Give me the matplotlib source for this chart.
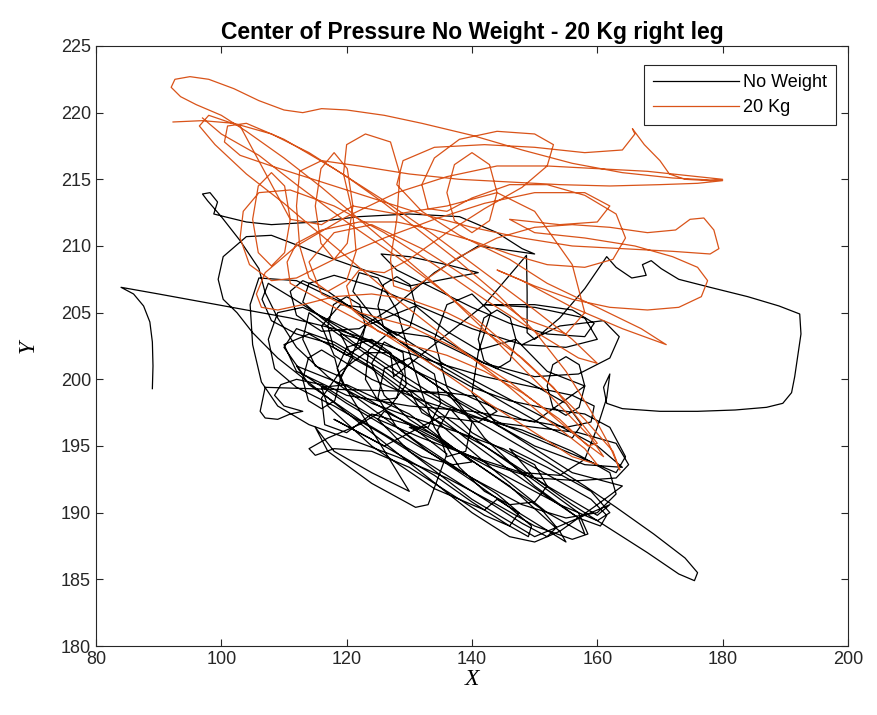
import matplotlib
matplotlib.use("Agg")
import matplotlib.pyplot as plt

# trajectories (x, y)
no_weight = [
    (89.0, 199.3), (89.1, 201.0), (89.0, 202.8), (88.6, 204.3), (87.6, 205.5), (86.0, 206.4), (84.0, 206.9),
    (90, 206.4), (97, 205.8), (104, 205.2), (111, 204.6), (118, 203.8), (126, 202.6), (134, 201.3), (142, 200.2),
    (150, 199.4), (156, 198.8), (159.5, 198.0), (159, 196.8), (155, 196.4), (148, 197.0),
    (140, 198.6), (132, 200.4), (124, 202.4), (117, 204.4), (111, 206.2), (107.5, 207.2), (106.5, 206.0),
    (108, 204.4), (112, 203.4), (118, 202.6),
    (125, 200.6), (132, 198.2), (139, 195.6), (146, 193.2), (152, 191.2), (157, 189.6), (160.5, 189.0),
    (161.5, 189.8), (159, 191.0), (153, 192.6), (146, 194.4),
    (140, 196.0), (136.5, 197.8), (134.5, 196.2), (136, 194.2), (139, 194.6), (140, 196.8),
    (136, 199.0), (128, 201.6), (120, 203.8), (113, 205.4), (109, 205.0), (107.5, 203.0), (108.5, 200.8),
    (112, 199.4), (118, 198.0),
    (126, 195.8), (134, 193.4), (142, 191.0), (148, 189.2), (152, 188.2), (153.5, 188.9), (151, 190.3), (144, 192.6),
    (136, 195.2), (130, 197.0), (126, 198.8), (124, 201.2), (126, 202.8), (129, 202.0), (129.5, 199.6),
    (127, 198.0), (122, 196.6), (117, 195.6), (114, 194.8), (115, 194.3), (118, 194.8),
    (124, 194.6), (130, 193.4), (136, 191.6), (142, 189.8), (146, 189.0), (147.5, 190.0), (144, 191.4), (138, 193.2),
    (131, 195.4), (124, 197.8), (117, 200.2), (112, 202.4), (109, 204.6), (107, 206.5), (106, 208.3),
    (103, 210.4), (100, 212.2), (97.8, 213.4), (97.0, 213.9), (98.2, 214.0), (99.4, 213.3), (98.8, 212.4),
    (100.5, 212.2), (104, 211.8), (108, 211.6),
    (115, 211.8), (122, 212.2), (130, 212.4), (138, 212.2), (144, 211.0), (148, 209.8), (150, 209.4),
    (147, 209.6), (141, 210.0),
    (134, 208.0), (128, 205.6), (122, 203.8), (116, 203.6), (112, 204.8), (111, 206.6), (113, 207.4),
    (117, 206.6), (123, 204.6), (130, 202.4), (138, 200.2), (146, 198.0), (152, 196.4), (156, 195.6),
    (157.5, 196.6), (155, 198.2), (149, 199.8),
    (140, 201.6), (133, 203.2), (127, 203.6), (123.5, 202.2), (123, 200.0), (125, 198.4), (128, 198.6),
    (129, 200.4), (127, 202.0), (123, 202.0), (119, 200.6), (116, 198.6), (116.5, 196.6), (120, 196.0), (124, 197.4),
    (130, 196.6), (138, 194.6), (146, 192.6), (154, 190.6), (160, 189.4), (162, 190.0), (159, 191.6),
    (152, 193.4), (146, 194.8),
    (150, 192.6), (156, 190.6), (162, 188.8), (168, 187.0), (173, 185.4), (175.5, 184.9), (176, 185.5),
    (174, 186.6), (169, 188.4), (163, 190.4), (158, 192.0), (152, 193.8),
    (144, 196.0), (136, 198.2), (128, 200.6), (121, 202.8), (116, 204.6), (113, 205.8), (114, 207.2),
    (118, 207.8), (124, 207.0), (132, 205.4), (140, 203.8), (148, 202.6), (155, 202.4), (160, 203.0),
    (158, 204.6), (150, 205.4), (142, 205.6),
    (148.7, 209.3), (148.8, 206.5), (148.8, 203.5), (150, 203.0), (154, 204.6), (158, 206.8), (161.5, 209.2),
    (163, 208.4), (165.5, 207.6), (167.8, 207.8), (167.2, 208.6), (168.6, 208.9), (170.2, 208.3),
    (173, 207.5), (178, 206.9), (184, 206.2), (189, 205.5), (192.3, 204.9), (192.5, 203.4), (192.0, 201.8),
    (191.5, 200.2), (191.0, 199.0), (189.6, 198.2), (187, 197.9), (182, 197.7), (176, 197.6), (170, 197.6),
    (164, 197.8), (161.5, 198.2), (161.0, 199.4), (162.0, 200.4), (161.5, 198.6),
    (160, 196.4), (158, 194.0), (154, 192.8), (148, 193.0), (140, 194.2), (132, 195.6), (125, 197.0),
    (120, 198.4), (116, 199.6), (112, 200.0), (109.5, 199.6), (108.5, 198.8), (110, 198.0), (113, 197.6),
    (111, 197.4), (109, 197.0), (107, 197.1), (106.2, 197.6), (107, 199.4), (114, 199.3), (122, 199.2),
    (130, 199.1), (136, 199.0), (141, 198.7), (144, 197.6), (141, 196.8), (135, 197.2),
    (126, 195.0), (118, 197.0), (126, 195.0), (134, 192.8), (140, 190.8), (146, 189.0), (149, 188.2),
    (149.5, 189.0), (146, 190.4), (140, 192.4), (133, 194.6), (128, 196.4), (125, 198.6), (126, 200.8),
    (130, 201.6), (134, 200.4), (135, 198.2), (133, 196.4), (130, 196.4),
    (136, 195.0), (143, 193.6), (150, 192.6), (157, 192.4), (163, 192.6), (165, 193.6), (163, 195.2),
    (157, 196.0), (150, 196.4), (143, 196.8),
    (136, 198.0), (130, 199.6), (124, 201.6), (118, 203.6), (114, 205.0), (113, 203.0), (115, 201.0),
    (119, 200.2), (121, 201.6), (119, 203.4),
    (124, 202.8), (131, 200.6), (138, 198.4), (145, 196.6), (152, 195.2), (158, 194.0), (163, 193.0),
    (164.5, 194.2), (162, 196.4), (158, 197.4),
    (152, 197.8), (146, 198.4), (140, 199.4), (134, 201.0), (128, 203.0), (124, 204.8), (121, 206.6),
    (122, 208.0), (125, 207.6), (128, 205.2), (130, 202.0), (132, 199.0), (134, 196.4),
    (138, 193.4), (142, 191.6), (146, 190.6), (150, 190.8), (152, 192.0), (150, 193.6), (145, 194.8),
    (138, 196.0), (130, 197.2), (124, 198.2), (120, 199.2), (118.5, 200.8), (120, 202.4), (124, 203.0),
    (127, 202.0), (127.5, 200.2),
    (142, 205.6), (150, 205.6), (156, 205.2), (159.5, 204.2), (158, 203.2), (152, 203.4), (146, 204.2),
    (140, 205.4), (134, 206.8), (128, 208.2), (125.5, 209.4), (130, 209.2), (136, 208.6), (141, 208.0),
    (130, 207.0), (118, 209.0), (108, 210.8), (104, 210.7), (100.3, 209.2), (99.5, 207.5), (100.3, 206.0),
    (102.5, 205.0), (105, 203.5), (109, 201.6), (116, 199.0), (124, 196.0), (132, 193.0), (140, 190.0),
    (146, 188.2), (150, 187.8), (154, 188.6), (160, 190.6), (164, 192.0),
    # thin ellipses in the lower cluster
    (156, 193.0), (146, 196.0), (136, 198.8), (130, 199.2), (132, 197.5), (142, 195.0), (152, 192.0),
    (160, 189.8), (162, 190.6),
    (150, 188.2), (140, 191.0), (130, 194.6), (125, 197.0), (126, 197.6), (134, 195.8), (146, 192.0),
    (154, 188.6), (155, 187.8),
    (144, 191.0), (142, 190.2), (134, 191.8), (124, 195.0), (117, 198.0), (116, 199.4), (120, 199.6),
    (130, 197.4), (140, 193.8),
    (137, 193.6), (132, 194.2), (122, 197.0), (114, 199.6), (112, 201.0), (120, 199.5), (130, 196.6),
    (136, 194.4),
    (133, 190.6), (131, 190.4), (124, 192.2), (117, 194.6), (115, 196.4), (118, 194.6), (124, 193.0),
    (130, 191.6),
    # small loops in the upper cluster
    (119, 200.0), (118.1, 201.6), (116, 202.2), (113.9, 201.6), (113, 200.0), (113.9, 198.4), (116, 197.8),
    (118.1, 198.4), (119, 200.0),
    (123, 204.0), (122.1, 205.6), (120, 206.2), (117.9, 205.6), (117, 204.0), (117.9, 202.4), (120, 201.8),
    (122.1, 202.4), (123, 204.0),
    (131, 205.5), (130.1, 207.1), (128, 207.7), (125.9, 207.1), (125, 205.5), (125.9, 203.9), (128, 203.3),
    (130.1, 203.9), (131, 205.5),
    (136, 203.6), (141, 202.2),
    (147, 203.0), (146.1, 204.6), (144, 205.2), (141.9, 204.6), (141, 203.0), (141.9, 201.4), (144, 200.8),
    (146.1, 201.4), (147, 203.0),
    (152, 200.6),
    (158, 199.5), (157.1, 201.1), (155, 201.7), (152.9, 201.1), (152, 199.5), (152.9, 197.9), (155, 197.3),
    (157.1, 197.9), (158, 199.5),
    (150, 196.8), (140, 197.6), (130, 198.0), (120, 198.8), (112, 200.6), (110, 202.6), (114, 203.4),
    (124, 200.8), (134, 197.0), (144, 193.0), (152, 190.0), (158, 188.4), (157, 189.6), (150, 192.0),
    (142, 195.6), (136, 199.4), (134, 203.0), (136, 205.6), (140, 206.4), (143, 205.0), (141, 202.0),
    (140, 199.0), (144, 196.6), (150, 195.0), (158, 193.6), (164, 193.4),
    # more passes
    (160, 195.0), (152, 197.0), (144, 199.0), (136, 201.0), (128, 203.4), (120, 205.6), (112, 207.4),
    (106, 207.6), (104.6, 205.6), (105, 202.6), (106.4, 199.8), (109, 198.0), (114, 196.6), (120, 195.6),
    (128, 194.2), (136, 192.6), (144, 190.6), (150, 189.0), (156, 188.0), (158.5, 188.4), (157, 190.0),
    (150, 192.4), (142, 195.0), (134, 197.8), (126, 200.6), (118, 202.8), (112, 203.8), (110, 202.4),
    (113, 200.4), (120, 198.2), (130, 195.4), (140, 192.6), (148, 190.6), (155, 189.6), (160, 190.0),
    (163, 191.4), (162, 193.0), (156, 194.6), (148, 196.2), (140, 197.2), (132, 198.4), (124, 200.0),
    (118, 201.8), (116, 204.0), (119, 205.6), (126, 205.2), (134, 203.4), (142, 201.2), (150, 200.2),
    (157, 200.4), (162, 201.6), (163.5, 203.2), (161, 204.4), (154, 204.0), (148, 202.6),
]

kg20 = [
    (92.3, 219.3), (97, 219.4), (102, 219.2), (108, 218.4), (114, 217.0), (120, 215.2), (126, 213.2),
    (132, 211.0), (138, 208.8), (144, 206.4), (150, 203.6), (155, 200.6), (159, 197.6), (162, 195.0),
    (163.6, 193.2), (162.5, 194.6), (158, 197.0), (152, 199.8), (146, 202.4), (140, 204.8), (134, 207.2),
    (128, 209.6), (122, 212.0), (116, 214.4), (110, 216.6), (104, 218.6), (100, 219.8),
    (96, 220.6), (93.5, 221.2), (92, 221.9), (92.6, 222.5), (95, 222.7), (98, 222.5), (102, 221.8),
    (106, 220.9), (110, 220.2), (113, 220.0), (116, 220.3), (120, 220.2), (126, 219.8), (132, 219.2),
    (140, 218.3), (148, 217.2), (156, 216.2), (164, 215.5), (172, 215.1), (180, 214.9), (176, 214.7),
    (170, 214.6), (162, 214.5), (154, 214.6), (146, 214.8),
    (138, 215.0), (130, 215.4), (122, 216.0), (116, 216.4), (112.5, 215.6), (112, 213.0), (112.5, 210.0),
    (114, 207.6), (117, 206.6), (120, 207.4), (121.5, 209.6), (121, 212.4), (119.5, 215.4), (120, 217.6),
    (123, 218.4), (127, 217.8), (128.5, 215.4), (128, 212.0), (127, 209.0), (127.5, 207.0), (130, 206.6),
    (133, 207.6),
    (138, 209.2), (144, 210.6), (150, 211.4), (156, 211.6), (162, 211.4), (168, 211.0), (172.5, 211.2),
    (174.8, 212.0), (177.0, 212.1), (178.6, 211.2), (179.4, 209.8), (178, 209.4), (172, 209.6), (164, 209.8),
    (156, 210.0), (148, 210.6), (140, 211.4), (132, 212.4), (124, 213.6), (116, 214.8), (108, 216.0),
    (103, 216.8), (100.5, 217.8), (101, 219.0), (104, 219.2),
    (110, 218.0), (118, 215.8), (126, 213.4), (134, 210.8), (142, 208.0), (150, 205.2), (156, 203.0),
    (160, 201.2), (157, 201.6), (150, 203.6), (142, 206.0), (134, 208.6), (126, 211.0), (118, 213.0),
    (111, 214.2), (106, 214.0), (103.5, 212.6), (103, 210.6), (104.5, 208.6), (108, 207.4), (112, 207.6),
    (118, 209.0), (126, 210.6), (134, 212.0), (142, 213.2), (150, 214.0), (158, 214.0), (162, 213.0),
    (160, 211.8), (154, 211.6), (146, 212.0),
    (150, 211.0), (158, 210.6), (166, 210.0), (172, 209.2), (176, 208.4), (177.6, 207.4), (176.6, 206.2),
    (173, 205.4), (168, 205.2), (162, 205.4), (156, 206.0), (150, 207.0), (144, 208.2),
    (148, 207.4), (156, 205.4), (164, 203.8), (171, 202.6), (167, 203.8), (160, 205.4), (152, 207.2),
    (146, 209.0), (138, 210.8), (132, 212.6), (128, 214.6), (129, 216.4), (134, 217.4), (142, 217.6),
    (150, 217.4), (158, 217.0), (164, 217.2), (166, 218.4), (165.6, 218.8), (167.5, 217.6), (170, 216.4),
    (171.5, 215.4), (174, 215.0), (178, 214.9), (180, 215.0), (176, 215.2), (168, 215.6), (160, 215.8),
    (152, 216.0),
    (144, 216.0), (136, 215.2), (128, 214.0), (120, 212.2), (112, 210.0), (107, 208.0), (105.6, 206.4),
    (106.4, 205.4), (109, 205.2), (113, 205.6), (118, 206.2), (124, 206.4), (130, 206.0), (136, 205.0),
    (142, 203.6), (148, 201.6), (153, 199.4), (157, 197.0), (160, 195.2), (158.5, 195.0), (154, 197.0),
    (148, 199.0), (142, 200.6), (136, 201.8), (130, 202.6), (125, 203.6), (121, 205.2), (120, 207.0),
    (122, 208.2), (126, 208.0),
    (130, 209.0), (136, 211.0), (142, 212.8), (148, 214.4), (152, 216.0), (153, 217.6), (150, 218.4),
    (144, 218.6), (138, 218.0), (134, 216.6), (132, 214.6), (133, 212.8), (136, 212.6),
    (140, 213.6), (146, 214.6), (152, 214.6), (158, 213.8), (163, 212.4), (164.5, 210.6), (162.5, 209.0),
    (158, 208.4), (152, 208.6), (146, 209.4), (140, 210.4), (134, 211.2), (128, 211.8), (122, 211.8),
    (116, 211.2), (112, 210.2), (110.5, 208.8), (111, 207.2),
    (118, 205.4), (126, 203.4), (134, 201.0), (142, 198.4), (150, 196.0), (156, 194.2), (160, 193.6),
    (158, 194.8), (152, 197.0), (146, 199.4), (140, 201.6), (134, 203.8), (128, 206.0), (122, 208.4),
    (116, 210.8), (110, 213.2), (104, 215.4), (99, 217.6), (96.5, 219.0), (98, 219.8), (103, 219.0),
    # extra loops in the upper band
    (111, 212.0), (110.1, 214.5), (108, 215.5), (105.9, 214.5), (105, 212.0), (105.9, 209.5), (108, 208.5),
    (110.1, 209.5), (111, 212.0),
    (116, 211.6), (121, 213.0), (120.1, 215.8), (118, 217.0), (115.9, 215.8), (115, 213.0), (115.9, 210.2),
    (118, 209.0), (120.1, 210.2), (121, 213.0),
    (128, 212.4), (136, 213.0), (144, 214.0), (142.8, 216.1), (140, 217.0), (137.2, 216.1), (136, 214.0),
    (137.2, 211.9), (140, 211.0), (142.8, 211.9), (144, 214.0),
    (150, 212.6), (156, 208.6), (158, 205.0), (155, 203.4), (148, 204.6), (140, 207.4), (132, 209.8),
    (124, 211.6), (118, 211.0), (114, 208.8), (116, 206.4), (122, 205.0), (130, 204.0), (138, 202.2),
    (146, 199.8), (152, 197.6), (157, 195.6), (161, 194.2), (159, 195.6), (152, 199.0), (144, 202.8),
    (136, 206.4), (128, 209.2), (120, 211.8), (112, 214.6), (106, 216.8), (100, 218.4), (97, 219.6),
]

nw_x = [p[0] for p in no_weight]
nw_y = [p[1] for p in no_weight]
kg_x = [p[0] for p in kg20]
kg_y = [p[1] for p in kg20]

plt.rcParams['font.family'] = ['Liberation Sans', 'DejaVu Sans']

fig = plt.figure(figsize=(8.78, 7.15), dpi=100)
ax = fig.add_axes([0.1093, 0.0965, 0.8565, 0.8392])

ax.plot(nw_x, nw_y, color='black', lw=0.9, label='No Weight')
ax.plot(kg_x, kg_y, color='#D95319', lw=0.9, label='20 Kg')

ax.set_xlim(80, 200)
ax.set_ylim(180, 225)
ax.set_xticks(range(80, 201, 20))
ax.set_yticks(range(180, 226, 5))
ax.tick_params(direction='in', top=True, right=True, labelsize=13, length=5, width=0.8, colors='#262626')
for s in ax.spines.values():
    s.set_linewidth(0.8)
    s.set_color('#262626')

ax.set_title('Center of Pressure No Weight - 20 Kg right leg', fontsize=16.5, fontweight='bold', pad=5)
ax.set_xlabel('X', fontsize=17, family='Liberation Serif', style='italic', labelpad=1)
ax.set_ylabel('Y', fontsize=17, family='Liberation Serif', style='italic', labelpad=16)

leg = ax.legend(loc='upper right', bbox_to_anchor=(0.984, 0.968), borderaxespad=0, fontsize=13,
                fancybox=False, framealpha=1, edgecolor='#262626', handlelength=4.8, borderpad=0.5,
                labelspacing=0.45, handletextpad=0.2)
leg.get_frame().set_linewidth(0.8)

fig.savefig('out.png', dpi=100)
